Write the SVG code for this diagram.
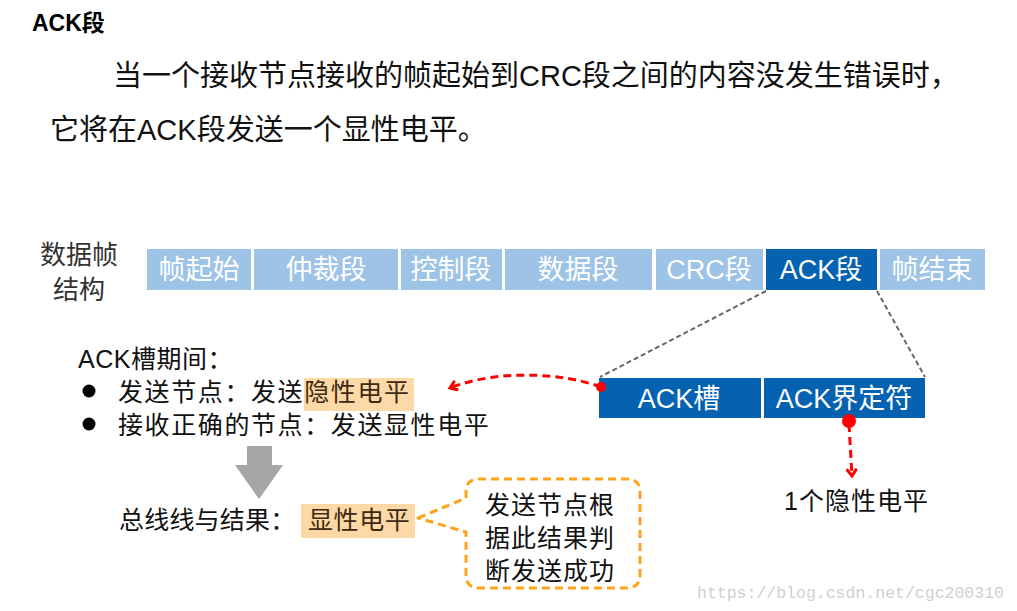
<svg xmlns="http://www.w3.org/2000/svg" width="1017" height="611" viewBox="0 0 1017 611">
<style>
text{font-family:"Liberation Sans","Noto Sans CJK SC",sans-serif;}
.t{font-size:25px;fill:#111;letter-spacing:1.6px;}
.big{font-size:29px;fill:#111;}
.seg{font-size:27px;fill:#fff;text-anchor:middle;}
.lb{fill:#9DC3E6;}
.db{fill:#0562B1;}
.hl{fill:#FDD9A8;}
.gd{stroke:#666;stroke-width:2;stroke-dasharray:5,3;fill:none;}
.rd{stroke:#F00;stroke-width:3;stroke-dasharray:8,5;fill:none;}
</style>
<defs>
<marker id="ah" markerWidth="12" markerHeight="12" refX="9" refY="6" orient="auto" markerUnits="userSpaceOnUse">
<polyline points="2,1 9,6 2,11" fill="none" stroke="#F00" stroke-width="3"/>
</marker>
</defs>
<rect width="1017" height="611" fill="#fff"/>
<g id="title">
<text x="32" y="31" style="font-size:23px;font-weight:bold;fill:#000">ACK段</text>
<text x="113" y="86" class="big">当一个接收节点接收的帧起始到CRC段之间的内容没发生错误时，</text>
<text x="50" y="140" class="big">它将在ACK段发送一个显性电平。</text>
</g>
<g id="frame-label">
<text x="40" y="264" style="font-size:26px;fill:#333">数据帧</text>
<text x="53" y="299" style="font-size:26px;fill:#333">结构</text>
</g>
<g id="frame">
<rect class="lb" x="147" y="249" width="104" height="41"/><text class="seg" x="199" y="279">帧起始</text>
<rect class="lb" x="254" y="249" width="144" height="41"/><text class="seg" x="326" y="279">仲裁段</text>
<rect class="lb" x="401" y="249" width="101" height="41"/><text class="seg" x="451" y="279">控制段</text>
<rect class="lb" x="505" y="249" width="147" height="41"/><text class="seg" x="578" y="279">数据段</text>
<rect class="lb" x="656" y="249" width="107" height="41"/><text class="seg" x="709" y="279">CRC段</text>
<rect class="db" x="766" y="249" width="111" height="41"/><text class="seg" x="821" y="279">ACK段</text>
<rect class="lb" x="880" y="249" width="105" height="41"/><text class="seg" x="932" y="279">帧结束</text>
</g>
<g id="ack-detail">
<rect class="db" x="599" y="378" width="162" height="40"/><text class="seg" x="679" y="408">ACK槽</text>
<rect class="db" x="764" y="378" width="161" height="40"/><text class="seg" x="844" y="408">ACK界定符</text>
</g>
<g id="connectors">
<line class="gd" x1="766" y1="291" x2="600" y2="377"/>
<line class="gd" x1="877" y1="291" x2="925" y2="377"/>
<path class="rd" d="M601 387 C560 372 495 370 450 388" marker-end="url(#ah)"/>
<circle cx="601" cy="387" r="5" fill="#F00"/>
<path class="rd" d="M849 424 L852 476" marker-end="url(#ah)"/>
<circle cx="849" cy="421" r="7" fill="#F00"/>
<polygon points="247,446 272,446 272,465 283,465 259,499 235,465 247,465" fill="#A6A6A6"/>
</g>
<g id="ack-period">
<text x="78" y="368" class="t" style="letter-spacing:0.5px">ACK槽期间：</text>
<circle cx="89" cy="391" r="6.5" fill="#000"/>
<circle cx="89" cy="424" r="6.5" fill="#000"/>
<rect class="hl" x="304" y="378" width="110" height="33"/>
<text x="118" y="401" class="t">发送节点：发送<tspan style="fill:#3d2a10">隐性电平</tspan></text>
<text x="118" y="434" class="t">接收正确的节点：发送显性电平</text>
</g>
<g id="recessive">
<text x="784" y="510" class="t" style="letter-spacing:1px">1个隐性电平</text>
</g>
<g id="bus-result">
<rect class="hl" x="301" y="504" width="114" height="34"/>
<text x="119" y="529" class="t" style="letter-spacing:0.2px">总线线与结果：<tspan x="308" style="fill:#3d2a10;letter-spacing:0.6px">显性电平</tspan></text>
</g>
<g id="callout">
<path d="M418 518 L466 498 L466 492 Q466 479 479 479 L627 479 Q640 479 640 492 L640 575 Q640 588 627 588 L479 588 Q466 588 466 575 L466 532 Z" fill="#fff" stroke="#FFA31A" stroke-width="3" stroke-dasharray="8,5" stroke-linejoin="round"/>
<text x="485" y="514" class="t" style="letter-spacing:1px">发送节点根</text>
<text x="485" y="547" class="t" style="letter-spacing:1px">据此结果判</text>
<text x="485" y="580" class="t" style="letter-spacing:1px">断发送成功</text>
</g>
<text x="697" y="598" style="font-family:'Liberation Mono',monospace;font-size:16.5px;fill:#cfcfcf">https://blog.csdn.net/cgc200310</text>
</svg>
